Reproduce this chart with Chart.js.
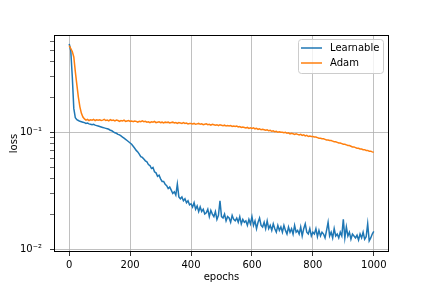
<!DOCTYPE html>
<html>
<head>
<meta charset="utf-8">
<script src="https://cdn.jsdelivr.net/npm/chart.js@4"></script>
<style>html,body{margin:0;padding:0;background:#fff}</style>
</head>
<body>
<canvas id="loss" width="432" height="288"></canvas>
<script>
// epochs sampled every 5 steps, 0..1000
const epochs = Array.from({length: 201}, (_, i) => i * 5);

const learnable = [
  0.57, 0.50, 0.30, 0.16, 0.133, 0.128, 0.126, 0.124, 0.123, 0.122,
  0.121, 0.119, 0.120, 0.118, 0.117, 0.116, 0.117, 0.115, 0.114, 0.113,
  0.112, 0.111, 0.110, 0.109, 0.108, 0.107, 0.106, 0.104, 0.103, 0.101,
  0.099, 0.098, 0.096, 0.095, 0.093, 0.091, 0.089, 0.087, 0.085, 0.083,
  0.081, 0.079, 0.076, 0.073, 0.070, 0.068, 0.065, 0.062, 0.061, 0.059,
  0.057, 0.056, 0.053, 0.052, 0.049, 0.050, 0.046, 0.045, 0.042, 0.043,
  0.040, 0.038, 0.038, 0.036, 0.035, 0.033, 0.034, 0.032, 0.030, 0.031,
  0.029, 0.036, 0.028, 0.027, 0.028, 0.026, 0.027, 0.025, 0.026, 0.024,
  0.0245, 0.023, 0.025, 0.022, 0.0235, 0.021, 0.023, 0.021, 0.022, 0.020,
  0.0205, 0.022, 0.019, 0.0215, 0.020, 0.019, 0.021, 0.018, 0.0195, 0.026,
  0.019, 0.0185, 0.020, 0.0175, 0.019, 0.0185, 0.017, 0.0195, 0.018, 0.0175,
  0.0185, 0.017, 0.019, 0.0165, 0.018, 0.017, 0.0175, 0.016, 0.018, 0.0165,
  0.019, 0.016, 0.0175, 0.015, 0.017, 0.0185, 0.016, 0.0155, 0.017, 0.015,
  0.0175, 0.015, 0.016, 0.0145, 0.0165, 0.015, 0.014, 0.016, 0.0145, 0.0155,
  0.014, 0.016, 0.0145, 0.0135, 0.0155, 0.014, 0.015, 0.0135, 0.016, 0.014,
  0.0145, 0.0135, 0.0155, 0.013, 0.015, 0.0165, 0.014, 0.0135, 0.015, 0.013,
  0.014, 0.0135, 0.015, 0.0128, 0.0145, 0.013, 0.014, 0.0135, 0.0125, 0.0145,
  0.017, 0.013, 0.014, 0.0125, 0.015, 0.013, 0.0135, 0.0125, 0.014, 0.013,
  0.018, 0.0125, 0.0155, 0.013, 0.014, 0.0122, 0.0135, 0.013, 0.0125, 0.0132,
  0.012, 0.0135, 0.0125, 0.014, 0.0122, 0.0128, 0.0165, 0.0118, 0.0125, 0.0135,
  0.0142
];

const adam = [
  0.55, 0.52, 0.49, 0.44, 0.33, 0.255, 0.20, 0.165, 0.145, 0.135,
  0.130, 0.127, 0.129, 0.126, 0.128, 0.127, 0.129, 0.126, 0.128, 0.127,
  0.128, 0.126, 0.127, 0.129, 0.126, 0.127, 0.125, 0.128, 0.126, 0.127,
  0.125, 0.127, 0.126, 0.124, 0.126, 0.125, 0.127, 0.124, 0.125, 0.126,
  0.124, 0.125, 0.123, 0.125, 0.124, 0.122, 0.124, 0.123, 0.125, 0.123,
  0.124, 0.122, 0.123, 0.121, 0.123, 0.122, 0.124, 0.121, 0.122, 0.123,
  0.121, 0.122, 0.120, 0.122, 0.121, 0.122, 0.120, 0.121, 0.122, 0.120,
  0.121, 0.119, 0.121, 0.120, 0.119, 0.121, 0.119, 0.120, 0.118, 0.119,
  0.119, 0.118, 0.119, 0.117, 0.118, 0.119, 0.117, 0.118, 0.116, 0.117,
  0.118, 0.116, 0.117, 0.115, 0.117, 0.116, 0.115, 0.116, 0.114, 0.116,
  0.115, 0.114, 0.115, 0.113, 0.114, 0.113, 0.114, 0.112, 0.113, 0.112,
  0.113, 0.111, 0.112, 0.110, 0.111, 0.110, 0.109, 0.110, 0.108, 0.109,
  0.108, 0.109, 0.107, 0.108, 0.106, 0.107, 0.105, 0.106, 0.105, 0.104,
  0.105, 0.103, 0.104, 0.102, 0.103, 0.101, 0.102, 0.100, 0.101, 0.100,
  0.100, 0.099, 0.100, 0.098, 0.099, 0.097, 0.098, 0.097, 0.096, 0.097,
  0.096, 0.095, 0.096, 0.094, 0.095, 0.093, 0.094, 0.092, 0.093, 0.092,
  0.092, 0.091, 0.091, 0.090, 0.089, 0.089, 0.088, 0.088, 0.087, 0.086,
  0.086, 0.085, 0.085, 0.084, 0.083, 0.083, 0.082, 0.081, 0.081, 0.080,
  0.079, 0.079, 0.078, 0.077, 0.077, 0.076, 0.075, 0.075, 0.074, 0.073,
  0.073, 0.072, 0.072, 0.071, 0.071, 0.070, 0.070, 0.069, 0.069, 0.068,
  0.0675
];

const xTicks = [0, 200, 400, 600, 800, 1000];
const yTicks = [0.01, 0.02, 0.03, 0.04, 0.05, 0.06, 0.07, 0.08, 0.09,
                0.1, 0.2, 0.3, 0.4, 0.5, 0.6];
const yMajor = {0.01: '10⁻²', 0.1: '10⁻¹'};

Chart.defaults.font.family = 'DejaVu Sans';
Chart.defaults.font.size = 10;
Chart.defaults.color = '#000';

// axes frame + matplotlib-like legend box inside the plot
const frameLegend = {
  id: 'frameLegend',
  afterDraw(chart) {
    const {ctx, chartArea: a} = chart;
    ctx.save();
    ctx.strokeStyle = '#000';
    ctx.lineWidth = 1;
    ctx.strokeRect(a.left + 0.5, a.top + 0.5, a.right - a.left - 1, a.bottom - a.top - 1);

    const w = 85, h = 34;
    const bx = a.right - 6 - w, by = a.top + 4;
    ctx.beginPath();
    ctx.roundRect(bx + 0.5, by + 0.5, w, h, 3);
    ctx.fillStyle = 'rgba(255,255,255,0.8)';
    ctx.fill();
    ctx.strokeStyle = '#cccccc';
    ctx.stroke();

    ctx.font = '10px "DejaVu Sans"';
    ctx.textBaseline = 'middle';
    chart.data.datasets.forEach((ds, i) => {
      const y = by + 9 + i * 15;
      ctx.beginPath();
      ctx.moveTo(bx + 3, y);
      ctx.lineTo(bx + 24, y);
      ctx.strokeStyle = ds.borderColor;
      ctx.lineWidth = 1.5;
      ctx.stroke();
      ctx.fillStyle = '#000';
      ctx.fillText(ds.label, bx + 32, y);
    });
    ctx.restore();
  }
};

new Chart(document.getElementById('loss'), {
  type: 'line',
  data: {
    datasets: [
      {
        label: 'Learnable',
        data: epochs.map((e, i) => ({x: e, y: learnable[i]})),
        borderColor: '#1f77b4',
        borderWidth: 1.5,
        pointRadius: 0,
        tension: 0,
        order: 1
      },
      {
        label: 'Adam',
        data: epochs.map((e, i) => ({x: e, y: adam[i]})),
        borderColor: '#ff7f0e',
        borderWidth: 1.5,
        pointRadius: 0,
        tension: 0,
        order: 0
      }
    ]
  },
  options: {
    responsive: false,
    animation: false,
    devicePixelRatio: 1,
    layout: {padding: {top: 35, right: 43, left: 0, bottom: 0}},
    plugins: {legend: {display: false}, tooltip: {enabled: false}},
    scales: {
      x: {
        type: 'linear',
        min: -50,
        max: 1050,
        afterBuildTicks: s => { s.ticks = xTicks.map(v => ({value: v})); },
        afterFit: s => { s.height = 36; },
        ticks: {padding: 3, maxRotation: 0, autoSkip: false, callback: v => String(v)},
        grid: {color: '#b0b0b0', lineWidth: 0.8, tickColor: '#000', tickLength: 4, tickWidth: 0.8},
        border: {display: false},
        title: {display: true, text: 'epochs', padding: {top: 0, bottom: 5}}
      },
      y: {
        type: 'logarithmic',
        min: 0.00948,
        max: 0.678,
        afterBuildTicks: s => { s.ticks = yTicks.map(v => ({value: v})); },
        afterFit: s => { s.width = 54; },
        ticks: {padding: 8, autoSkip: false, callback: v => yMajor[v] || ''},
        grid: {
          color: c => yMajor[c.tick && c.tick.value] ? '#b0b0b0' : 'rgba(0,0,0,0)',
          lineWidth: 0.8,
          tickColor: '#000',
          tickLength: 4,
          tickWidth: c => yMajor[c.tick && c.tick.value] ? 0.8 : 0.6
        },
        border: {display: false},
        title: {display: true, text: 'loss', padding: {top: 8, bottom: 0}}
      }
    }
  },
  plugins: [frameLegend]
});
</script>
</body>
</html>
